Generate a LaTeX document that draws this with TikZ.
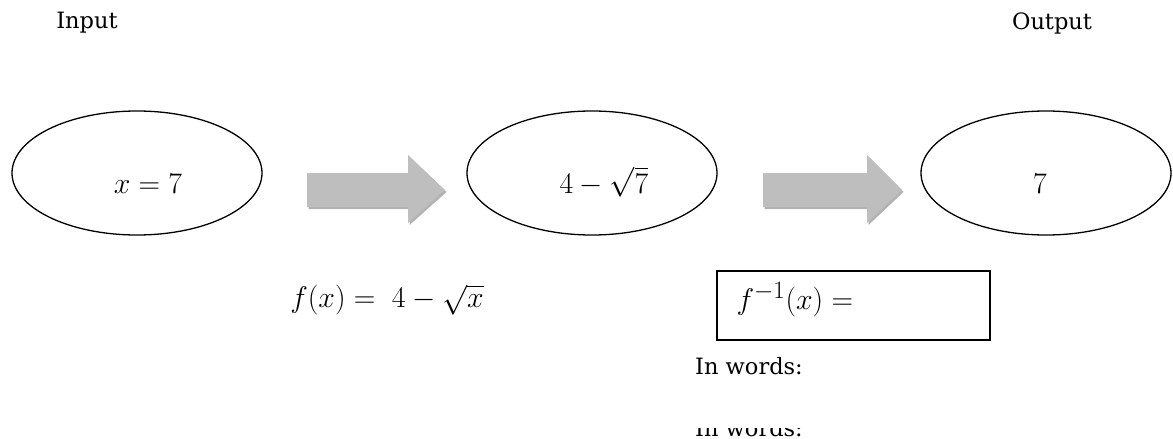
\documentclass[tikz,border=0pt]{standalone}
\usepackage{graphicx}
\usepackage{fontspec}
\setmainfont{DejaVu Serif}
\usetikzlibrary{shapes.geometric,shadows}
\definecolor{arrowgray}{HTML}{BEBEBE}
\newcommand{\myMathBig}[1]{\scalebox{1.2}{$#1$}}
\begin{document}
\begin{tikzpicture}[x=1pt,y=-1pt,
  every node/.style={font=\fontsize{22.5}{27}\selectfont},
  mathtext/.style={font=\fontsize{24.88}{30}\selectfont},
  oval/.style={ellipse,draw,line width=1.3pt,minimum width=250pt,minimum height=124pt,inner sep=0pt},
  blockarrow/.style={fill=arrowgray,drop shadow={shadow xshift=1.5pt,shadow yshift=-2pt,opacity=0.3,fill=black}},
  framebox/.style={draw,line width=1.3pt,minimum width=273pt,minimum height=69pt,inner sep=0pt}]
\useasboundingbox (0,0) rectangle (1173,439);
\fill[white] (0,0) rectangle (1173,439);
\node (input) at (87,23) {Input};
\node (output) at (1052,23) {Output};
\node[oval] (e1) at (137,173) {};
\node[oval] (e2) at (592,173) {};
\node[oval] (e3) at (1046,173) {};
\node[mathtext] (t1) at (148,184) {\myMathBig{x = 7}};
\node[mathtext] (t2) at (604,182) {\myMathBig{4 - \sqrt{7}}};
\node[mathtext] (t3) at (1040,184) {\myMathBig{7}};
\path[blockarrow] (307,173) -- (408,173) -- (408,155) -- (445,190) -- (408,223) -- (408,207) -- (307,207) -- cycle;
\path[blockarrow] (763,173) -- (867,173) -- (867,155) -- (902,190) -- (867,223) -- (867,207) -- (763,207) -- cycle;
\node[mathtext] (fx) at (387,300) {\myMathBig{f(x) = \;4 - \sqrt{x}}};
\node[framebox] (box) at (853.5,305.5) {};
\node[mathtext,anchor=west] (finv) at (733,300) {\myMathBig{f^{-1}(x) =}};
\node (words) at (749,366) {In words:};
\begin{scope}
\clip (600,428) rectangle (900,437);
\node[anchor=base] (words2) at (749,436) {In words:};
\end{scope}
\end{tikzpicture}
\end{document}
